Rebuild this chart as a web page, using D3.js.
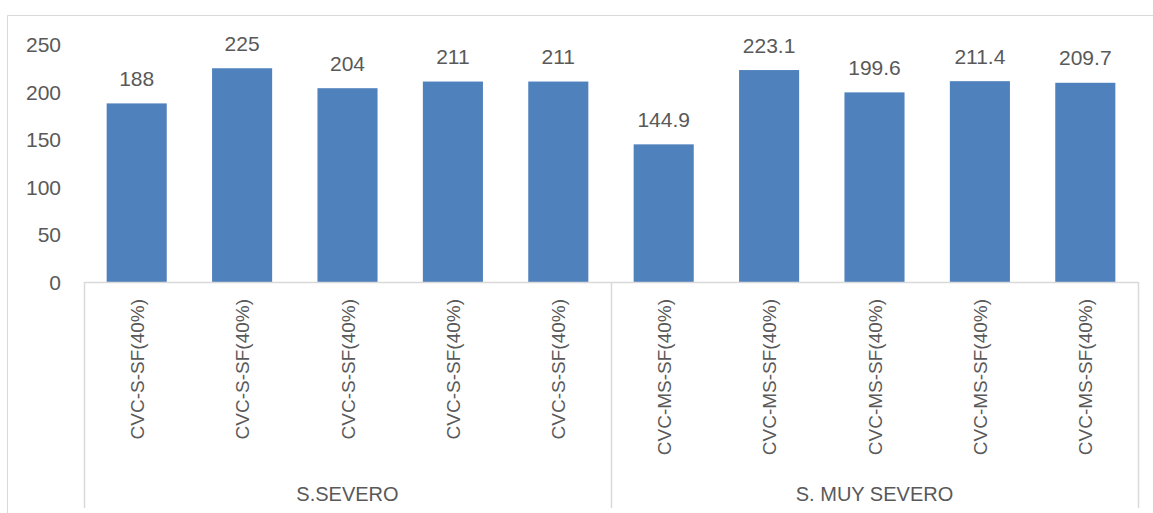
<!DOCTYPE html>
<html>
<head>
<meta charset="utf-8">
<script src="https://cdn.jsdelivr.net/npm/d3@7"></script>
<style>
  html, body { margin: 0; padding: 0; background: #ffffff; }
  svg { display: block; }
  text { font-family: "Liberation Sans", Arial, sans-serif; fill: #595959; }
</style>
</head>
<body>
<svg id="chart" width="1153" height="513"></svg>
<script>
// Bar categories, their parent groups and values
const categories = [
  "CVC-S-SF(40%)", "CVC-S-SF(40%)", "CVC-S-SF(40%)", "CVC-S-SF(40%)", "CVC-S-SF(40%)",
  "CVC-MS-SF(40%)", "CVC-MS-SF(40%)", "CVC-MS-SF(40%)", "CVC-MS-SF(40%)", "CVC-MS-SF(40%)"
];
const groups = ["S.SEVERO", "S. MUY SEVERO"];
const groupOf = [0, 0, 0, 0, 0, 1, 1, 1, 1, 1];
const values = [188, 225, 204, 211, 211, 144.9, 223.1, 199.6, 211.4, 209.7];
const yTicks = [0, 50, 100, 150, 200, 250];

const W = 1153, H = 513;
const plot = { left: 84, right: 1138, top: 44.5, bottom: 282 };
const axisBottom = 508;
const grey = "#d9d9d9";
const barColor = "#4f81bd";

const svg = d3.select("#chart");

// outer chart frame (top and left edges visible)
svg.append("path")
  .attr("d", `M7.5,${H} V15.5 H${W}`)
  .attr("fill", "none")
  .attr("stroke", grey)
  .attr("stroke-width", 1);

const idx = d3.range(values.length);
const x = d3.scaleBand()
  .domain(idx)
  .range([plot.left, plot.right])
  .paddingInner(0.43)
  .paddingOuter(0.215);

const y = d3.scaleLinear()
  .domain([0, 250])
  .range([plot.bottom, plot.top]);

// y axis: labels only, no line or ticks
const yAxis = svg.append("g")
  .attr("transform", `translate(${plot.left - 23},0)`)
  .call(d3.axisLeft(y).tickValues(yTicks).tickSize(0).tickPadding(0));
yAxis.select(".domain").remove();
yAxis.selectAll("text")
  .attr("dy", "0.35em")
  .style("font-size", "21px")
  .style("font-family", "'Liberation Sans', Arial, sans-serif")
  .attr("fill", "#595959");

// bars
svg.append("g").selectAll("rect")
  .data(idx)
  .join("rect")
  .attr("x", i => x(i))
  .attr("width", x.bandwidth())
  .attr("y", i => y(values[i]))
  .attr("height", i => y(0) - y(values[i]))
  .attr("fill", barColor);

// value labels
svg.append("g").selectAll("text")
  .data(idx)
  .join("text")
  .attr("x", i => x(i) + x.bandwidth() / 2)
  .attr("y", i => y(values[i]) - 17.5)
  .attr("text-anchor", "middle")
  .style("font-size", "21px")
  .text(i => String(values[i]));

// category axis line and group separators
const step = x.step();
const axisG = svg.append("g");
axisG.append("line")
  .attr("x1", plot.left).attr("x2", plot.right)
  .attr("y1", plot.bottom + 0.5).attr("y2", plot.bottom + 0.5)
  .attr("stroke", grey).attr("stroke-width", 1.5);

const boundaries = [0, 5, 10].map(k => plot.left + k * step);
axisG.selectAll("line.sep")
  .data(boundaries)
  .join("line")
  .attr("class", "sep")
  .attr("x1", d => Math.round(d) + 0.5).attr("x2", d => Math.round(d) + 0.5)
  .attr("y1", plot.bottom).attr("y2", axisBottom)
  .attr("stroke", grey).attr("stroke-width", 1.5);

// rotated category labels
svg.append("g").selectAll("text")
  .data(idx)
  .join("text")
  .attr("transform", i => `translate(${x(i) + x.bandwidth() / 2 + 7},299) rotate(-90)`)
  .attr("text-anchor", "end")
  .style("font-size", "19px")
  .text(i => categories[i]);

// group labels
svg.append("g").selectAll("text")
  .data(groups)
  .join("text")
  .attr("x", (g, gi) => {
    const members = idx.filter(i => groupOf[i] === gi);
    const a = x(members[0]) - x.step() * x.paddingInner() / 2;
    const b = x(members[members.length - 1]) + x.bandwidth() + x.step() * x.paddingInner() / 2;
    return (a + b) / 2;
  })
  .attr("y", 501)
  .attr("text-anchor", "middle")
  .style("font-size", "20px")
  .text(g => g);
</script>
</body>
</html>
